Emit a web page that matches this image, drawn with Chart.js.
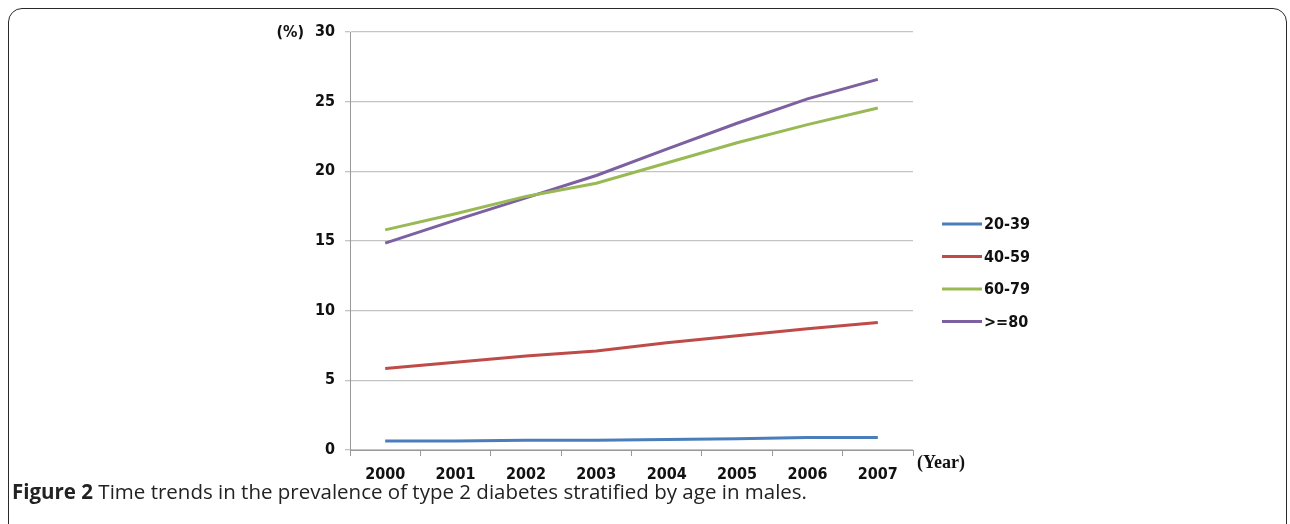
<!DOCTYPE html>
<html>
<head>
<meta charset="utf-8">
<script src="https://cdn.jsdelivr.net/npm/chart.js@4/dist/chart.umd.min.js"></script>
<style>
  html, body { margin: 0; padding: 0; background: #fff; overflow: hidden; }
  #wrap { position: relative; width: 1290px; height: 524px; }
  #frame {
    position: absolute; left: 8px; top: 8px; width: 1277px; height: 620px;
    border: 1.5px solid #2a2a2a; border-radius: 14px;
  }
  #chart { position: absolute; left: 0; top: 0; }
  #caption {
    position: absolute; left: 12px; top: 477px;
    font-family: "Open Sans", sans-serif; font-size: 20.5px; color: #222;
    white-space: nowrap;
  }
  #caption b { font-weight: 700; }
</style>
</head>
<body>
<div id="wrap">
  <div id="frame"></div>
  <canvas id="chart" width="1290" height="524"></canvas>
  <div id="caption"><b>Figure 2</b> Time trends in the prevalence of type 2 diabetes stratified by age in males.</div>
</div>
<script>
const years = ["2000", "2001", "2002", "2003", "2004", "2005", "2006", "2007"];
const age20to39 = [0.65, 0.65, 0.7, 0.7, 0.75, 0.8, 0.9, 0.9];
const age40to59 = [5.85, 6.3, 6.75, 7.1, 7.7, 8.2, 8.7, 9.15];
const age60to79 = [15.8, 16.95, 18.2, 19.15, 20.6, 22.05, 23.35, 24.55];
const age80plus = [14.85, 16.5, 18.1, 19.7, 21.6, 23.45, 25.2, 26.6];
const yTicks = [0, 5, 10, 15, 20, 25, 30];

const tickFont = { family: "'DejaVu Sans Condensed', sans-serif", size: 16, weight: "bold" };

const sideLegend = {
    id: "sideLegend",
    afterDraw(chart) {
        const ctx = chart.ctx;
        ctx.save();
        chart.data.datasets.forEach((ds, i) => {
            const y = 224 + i * 32.5;
            ctx.strokeStyle = ds.borderColor;
            ctx.lineWidth = 3;
            ctx.beginPath();
            ctx.moveTo(942, y);
            ctx.lineTo(982, y);
            ctx.stroke();
            ctx.fillStyle = "#111";
            ctx.font = "bold 16px 'DejaVu Sans Condensed', sans-serif";
            ctx.textBaseline = "middle";
            ctx.fillText(ds.label, 984, y + 1);
        });
        // axis unit labels
        ctx.font = "bold 16px 'DejaVu Sans Condensed', sans-serif";
        ctx.textAlign = "right";
        ctx.fillText("(%)", 304, chart.scales.y.getPixelForValue(30) + 1);
        ctx.font = "bold 18px 'Liberation Serif', serif";
        ctx.textAlign = "left";
        ctx.fillText("(Year)", 917, chart.chartArea.bottom + 13);
        ctx.restore();
    }
};

new Chart(document.getElementById("chart"), {
    type: "line",
    data: {
        labels: years,
        datasets: [
            { label: "20-39", data: age20to39, borderColor: "#4a7ebb" },
            { label: "40-59", data: age40to59, borderColor: "#be4b48" },
            { label: "60-79", data: age60to79, borderColor: "#98b954" },
            { label: ">=80", data: age80plus, borderColor: "#7d60a0" }
        ]
    },
    options: {
        responsive: false,
        animation: false,
        layout: { padding: { left: 0, right: 377, top: 32, bottom: 44 } },
        elements: {
            line: { borderWidth: 3, tension: 0 },
            point: { radius: 0 }
        },
        plugins: {
            legend: { display: false },
            tooltip: { enabled: false }
        },
        scales: {
            x: {
                offset: true,
                grid: { offset: true, drawOnChartArea: false, tickLength: 6, color: "#999" },
                border: { color: "#999" },
                ticks: { color: "#111", font: tickFont, padding: 9, maxRotation: 0 },
                afterFit: s => { s.height = 30; }
            },
            y: {
                min: 0,
                max: 30,
                afterBuildTicks: s => { s.ticks = yTicks.map(v => ({ value: v })); },
                grid: { color: "#c4c4c4", tickLength: 5, lineWidth: 1.3 },
                border: { color: "#999" },
                ticks: { color: "#111", font: tickFont, padding: 10 },
                afterFit: s => { s.width = 350; }
            }
        }
    },
    plugins: [sideLegend]
});
</script>
</body>
</html>
